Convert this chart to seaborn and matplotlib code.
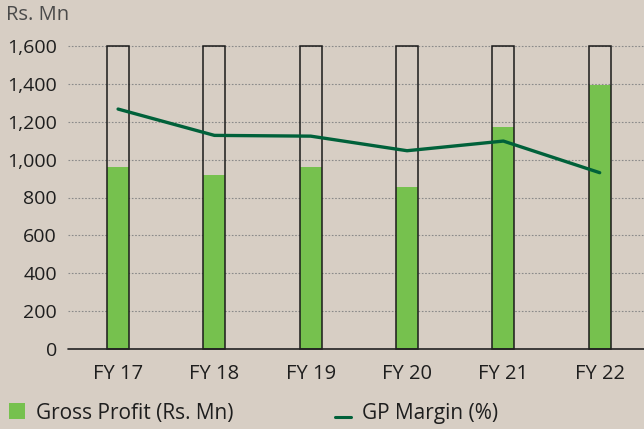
import matplotlib
matplotlib.use("Agg")
import matplotlib.pyplot as plt
import seaborn as sns
from matplotlib.patches import Patch
from matplotlib.lines import Line2D

# data
years = ["FY 17", "FY 18", "FY 19", "FY 20", "FY 21", "FY 22"]
gross_profit = [960, 918, 960, 855, 1172, 1394]
# GP margin line, drawn on the same scale as in the original
gp_margin_line = [1267, 1128, 1124, 1047, 1098, 931]
frame_top = [1600, 1600, 1600, 1600, 1600, 1600]
y_ticks = [0, 200, 400, 600, 800, 1000, 1200, 1400, 1600]

bg = "#d7cec4"
bar_green = "#76c14e"
line_green = "#00613a"

sns.set_style("white")
plt.rcParams["font.family"] = ["Open Sans", "DejaVu Sans"]

fig = plt.figure(figsize=(6.44, 4.29), dpi=100, facecolor=bg)
ax = fig.add_axes([68 / 644, 80 / 429, 576 / 644, 303 / 429])
ax.set_facecolor(bg)

# grid lines
for t in y_ticks[1:]:
    ax.axhline(t, color="#8a8a8a", lw=0.8, ls=(0, (1.5, 1.5)), zorder=0, clip_on=False)

sns.barplot(x=years, y=gross_profit, color=bar_green, width=0.23,
            saturation=1, linewidth=0, ax=ax, zorder=2)
sns.barplot(x=years, y=frame_top, fill=False, width=0.23, edgecolor="#1a1a1a",
            linewidth=1.1, ax=ax, zorder=3)
for p in ax.patches:
    p.set_clip_on(False)

sns.lineplot(x=years, y=gp_margin_line, color=line_green, lw=2.4, sort=False,
             ax=ax, zorder=4)

ax.axhline(0, color="#222222", lw=1.2, zorder=5, clip_on=False)

ax.set_xlim(-0.52, 5.46)
ax.set_ylim(0, 1600)
ax.set_yticks(y_ticks)
ax.set_yticklabels([f"{t:,}" for t in y_ticks])
ax.tick_params(axis="y", length=0, pad=8, labelsize=14, labelcolor="#1e1e1e")
ax.tick_params(axis="x", length=0, pad=11, labelsize=14.5, labelcolor="#1e1e1e")
ax.set_xlabel("")
ax.set_ylabel("")
for s in ax.spines.values():
    s.set_visible(False)

fig.text(6 / 644, 1 - 15 / 429, "Rs. Mn", fontsize=14.5, color="#4a4a4a",
         va="center", ha="left")

handles = [Patch(facecolor=bar_green, edgecolor="none"),
           Line2D([0], [0], color=line_green, lw=2.2)]
leg = fig.legend(handles, ["Gross Profit (Rs. Mn)", "GP Margin (%)"], ncol=2,
                 loc="center left", bbox_to_anchor=(9 / 644, 1 - 413 / 429),
                 frameon=False, fontsize=15, handlelength=0.77, handleheight=0.77,
                 handletextpad=0.53, columnspacing=4.85, labelcolor="#1e1e1e",
                 borderpad=0, borderaxespad=0)
# the margin dash sits low in the original legend
dash = leg.legend_handles[1]
dash.set_ydata([y - 4.5 for y in dash.get_ydata()])

fig.savefig("out.png", dpi=100, facecolor=bg)
